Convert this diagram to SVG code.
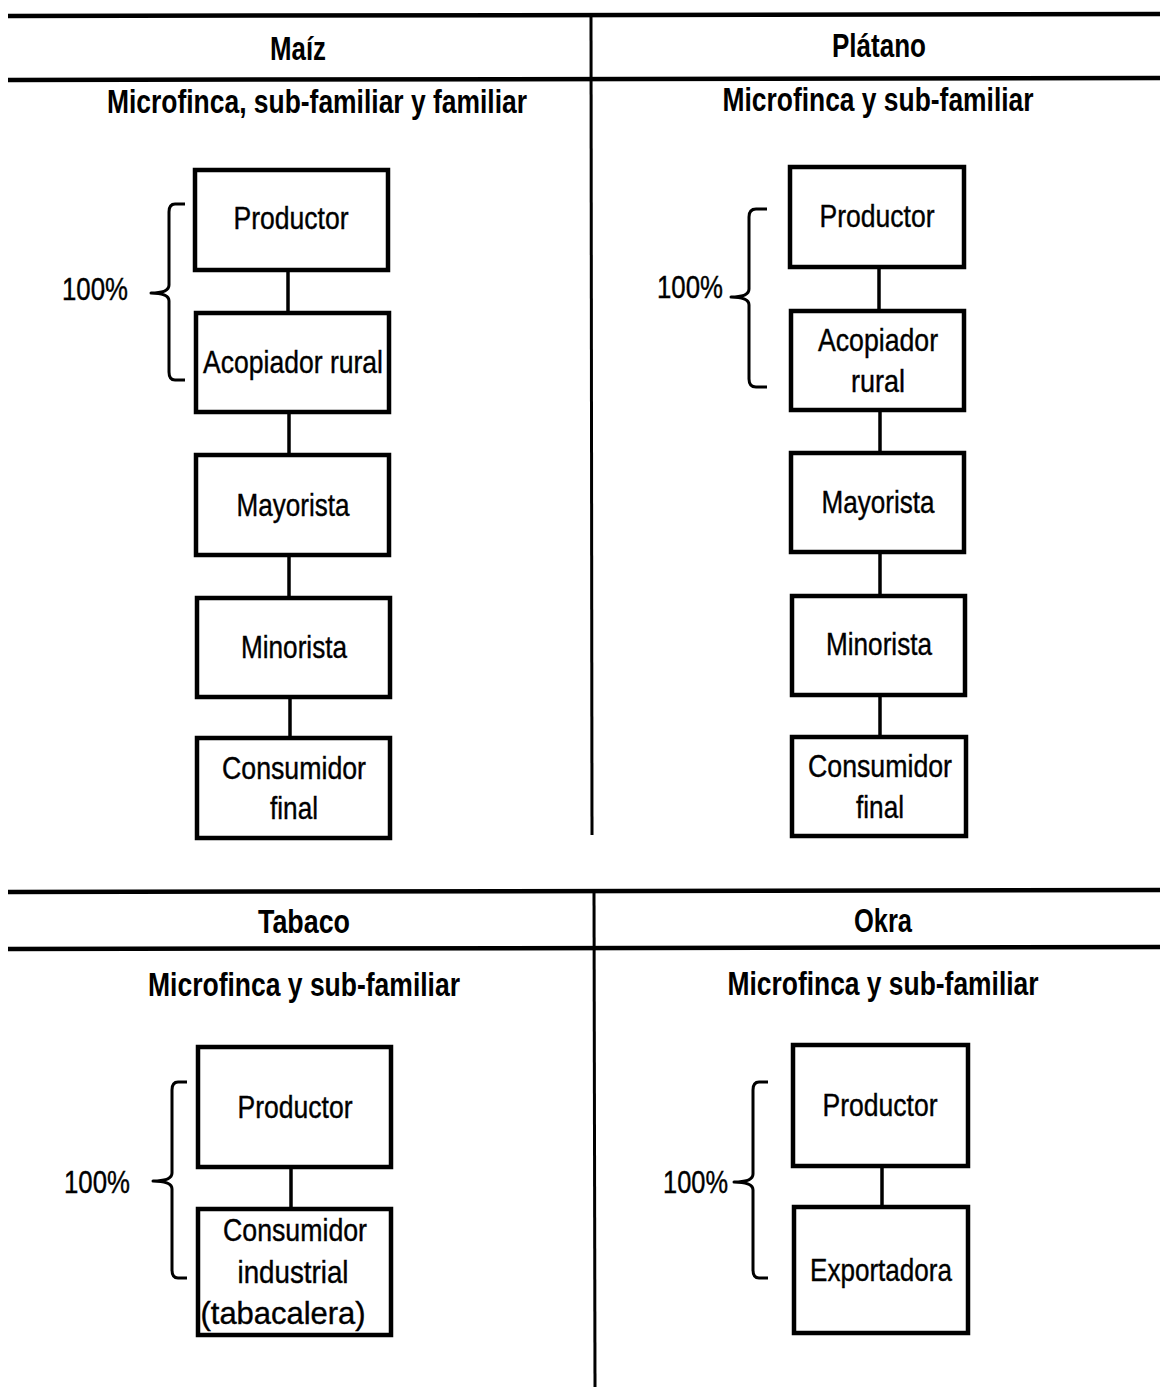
<svg xmlns="http://www.w3.org/2000/svg" width="1160" height="1387" viewBox="0 0 1160 1387">
<style>
.rule{stroke:#000;stroke-width:4.5;fill:none}
.div{stroke:#000;stroke-width:3;fill:none}
.box{fill:#fff;stroke:#000;stroke-width:4.5}
.conn{stroke:#000;stroke-width:3.5;fill:none}
.brace{stroke:#000;stroke-width:3;fill:none;stroke-linejoin:round}
.h{font-family:"Liberation Sans",Arial,sans-serif;font-weight:bold;font-size:33px;text-anchor:middle;fill:#000}
.t{font-family:"Liberation Sans",Arial,sans-serif;font-size:32px;text-anchor:middle;fill:#000;stroke:#000;stroke-width:0.4}
.p{font-family:"Liberation Sans",Arial,sans-serif;font-size:31px;text-anchor:start;fill:#000;stroke:#000;stroke-width:0.4}
</style>
<rect width="1160" height="1387" fill="#fff"/>
<g id="table-lines">
<line class="rule" x1="8" y1="16" x2="1160" y2="14"/>
<line class="rule" x1="8" y1="80" x2="1160" y2="78"/>
<line class="div" x1="591" y1="14" x2="592" y2="835"/>
<line class="rule" x1="8" y1="892" x2="1160" y2="890"/>
<line class="rule" x1="8" y1="949" x2="1160" y2="947"/>
<line class="div" x1="594" y1="890" x2="595" y2="1387"/>
</g>
<g id="headers">
<text class="h" x="298" y="60" textLength="56" lengthAdjust="spacingAndGlyphs">Maíz</text>
<text class="h" x="879" y="57" textLength="94" lengthAdjust="spacingAndGlyphs">Plátano</text>
<text class="h" x="317" y="113" textLength="420" lengthAdjust="spacingAndGlyphs">Microfinca, sub-familiar y familiar</text>
<text class="h" x="878" y="111" textLength="311" lengthAdjust="spacingAndGlyphs">Microfinca y sub-familiar</text>
<text class="h" x="304" y="933" textLength="92" lengthAdjust="spacingAndGlyphs">Tabaco</text>
<text class="h" x="883" y="932" textLength="58" lengthAdjust="spacingAndGlyphs">Okra</text>
<text class="h" x="304" y="996" textLength="312" lengthAdjust="spacingAndGlyphs">Microfinca y sub-familiar</text>
<text class="h" x="883" y="995" textLength="311" lengthAdjust="spacingAndGlyphs">Microfinca y sub-familiar</text>
</g>
<g id="connectors">
<line class="conn" x1="288" y1="270" x2="288" y2="313"/>
<line class="conn" x1="289" y1="412" x2="289" y2="455"/>
<line class="conn" x1="289" y1="555" x2="289" y2="598"/>
<line class="conn" x1="290" y1="697" x2="290" y2="738"/>
<line class="conn" x1="879" y1="267" x2="879" y2="311"/>
<line class="conn" x1="880" y1="410" x2="880" y2="453"/>
<line class="conn" x1="880" y1="552" x2="880" y2="596"/>
<line class="conn" x1="880" y1="695" x2="880" y2="737"/>
<line class="conn" x1="291" y1="1167" x2="291" y2="1209"/>
<line class="conn" x1="882" y1="1166" x2="882" y2="1207"/>
</g>
<g id="brackets">
<path class="brace" d="M185,204 H175 Q169,204 169,212 V285 Q169,293 151,293 Q169,293 169,301 V372 Q169,380 175,380 H185"/>
<path class="brace" d="M767,209 H756 Q749,209 749,217 V289 Q749,297 731,297 Q749,297 749,305 V379 Q749,387 756,387 H767"/>
<path class="brace" d="M187,1082 H178 Q172,1082 172,1090 V1173 Q172,1181 153,1181 Q172,1181 172,1189 V1270 Q172,1278 178,1278 H187"/>
<path class="brace" d="M768,1082 H759 Q753,1082 753,1090 V1174 Q753,1182 734,1182 Q753,1182 753,1190 V1270 Q753,1278 759,1278 H768"/>
</g>
<g id="labels">
<text class="p" x="62" y="300" textLength="66" lengthAdjust="spacingAndGlyphs">100%</text>
<text class="p" x="657" y="298" textLength="66" lengthAdjust="spacingAndGlyphs">100%</text>
<text class="p" x="64" y="1193" textLength="66" lengthAdjust="spacingAndGlyphs">100%</text>
<text class="p" x="663" y="1193" textLength="65" lengthAdjust="spacingAndGlyphs">100%</text>
</g>
<g id="maiz-productor"><rect class="box" x="195" y="170" width="193" height="100"/><text class="t" x="291" y="229" textLength="115" lengthAdjust="spacingAndGlyphs">Productor</text></g>
<g id="maiz-acopiador"><rect class="box" x="196" y="313" width="193" height="99"/><text class="t" x="293" y="373" textLength="180" lengthAdjust="spacingAndGlyphs">Acopiador rural</text></g>
<g id="maiz-mayorista"><rect class="box" x="196" y="455" width="193" height="100"/><text class="t" x="293" y="516" textLength="113" lengthAdjust="spacingAndGlyphs">Mayorista</text></g>
<g id="maiz-minorista"><rect class="box" x="197" y="598" width="193" height="99"/><text class="t" x="294" y="658" textLength="106" lengthAdjust="spacingAndGlyphs">Minorista</text></g>
<g id="maiz-consumidor"><rect class="box" x="197" y="738" width="193" height="100"/><text class="t" x="294" y="779" textLength="144" lengthAdjust="spacingAndGlyphs">Consumidor</text><text class="t" x="294" y="819" textLength="48" lengthAdjust="spacingAndGlyphs">final</text></g>
<g id="platano-productor"><rect class="box" x="790" y="167" width="174" height="100"/><text class="t" x="877" y="227" textLength="115" lengthAdjust="spacingAndGlyphs">Productor</text></g>
<g id="platano-acopiador"><rect class="box" x="791" y="311" width="173" height="99"/><text class="t" x="878" y="351" textLength="120" lengthAdjust="spacingAndGlyphs">Acopiador</text><text class="t" x="878" y="392" textLength="54" lengthAdjust="spacingAndGlyphs">rural</text></g>
<g id="platano-mayorista"><rect class="box" x="791" y="453" width="173" height="99"/><text class="t" x="878" y="513" textLength="113" lengthAdjust="spacingAndGlyphs">Mayorista</text></g>
<g id="platano-minorista"><rect class="box" x="792" y="596" width="173" height="99"/><text class="t" x="879" y="655" textLength="106" lengthAdjust="spacingAndGlyphs">Minorista</text></g>
<g id="platano-consumidor"><rect class="box" x="792" y="737" width="174" height="99"/><text class="t" x="880" y="777" textLength="144" lengthAdjust="spacingAndGlyphs">Consumidor</text><text class="t" x="880" y="818" textLength="48" lengthAdjust="spacingAndGlyphs">final</text></g>
<g id="tabaco-productor"><rect class="box" x="198" y="1047" width="193" height="120"/><text class="t" x="295" y="1118" textLength="115" lengthAdjust="spacingAndGlyphs">Productor</text></g>
<g id="tabaco-consumidor"><rect class="box" x="198" y="1209" width="193" height="126"/><text class="t" x="295" y="1241" textLength="144" lengthAdjust="spacingAndGlyphs">Consumidor</text><text class="t" x="293" y="1283" textLength="111" lengthAdjust="spacingAndGlyphs">industrial</text><text class="t" x="283" y="1324" textLength="165" lengthAdjust="spacingAndGlyphs">(tabacalera)</text></g>
<g id="okra-productor"><rect class="box" x="793" y="1045" width="175" height="121"/><text class="t" x="880" y="1116" textLength="115" lengthAdjust="spacingAndGlyphs">Productor</text></g>
<g id="okra-exportadora"><rect class="box" x="794" y="1207" width="174" height="126"/><text class="t" x="881" y="1281" textLength="142" lengthAdjust="spacingAndGlyphs">Exportadora</text></g>
</svg>
